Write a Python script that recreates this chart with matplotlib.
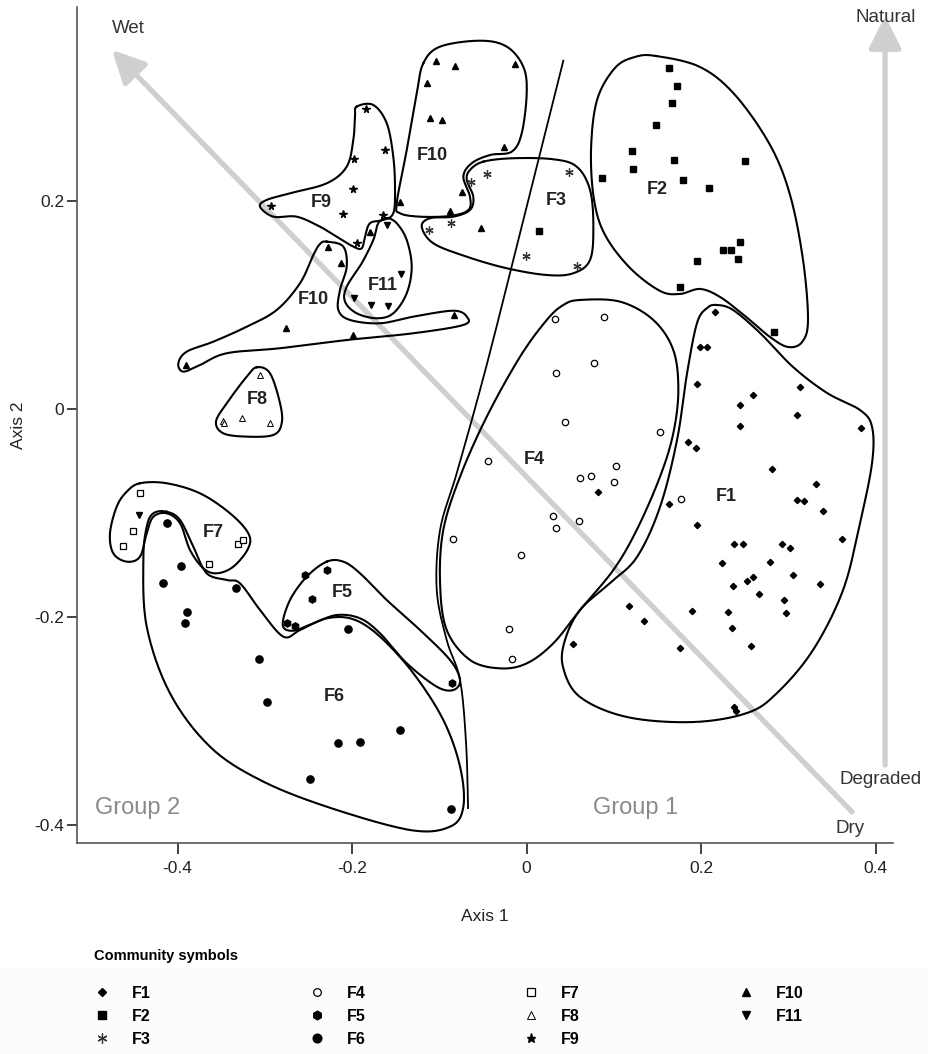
import numpy as np
import matplotlib
matplotlib.use('Agg')
import matplotlib.pyplot as plt
from matplotlib.lines import Line2D
from matplotlib.patches import Rectangle

plt.rcParams['font.family'] = ['Liberation Sans', 'DejaVu Sans']

# ---- site scores (Axis 1, Axis 2) ----
f1_x = [0.2157, 0.1989, 0.2069, 0.1951, 0.2599, 0.3135, 0.2450, 0.3100, 0.2444, 0.3837,
        0.1848, 0.1943, 0.2817, 0.3322, 0.3104, 0.3184, 0.3402, 0.0823, 0.1630, 0.1951,
        0.3613, 0.2375, 0.2481, 0.2925, 0.3024, 0.2244, 0.2791, 0.3054, 0.3360, 0.2367,
        0.2524, 0.2593, 0.2668, 0.2955, 0.1171, 0.1900, 0.2313, 0.2978, 0.1350, 0.2355,
        0.0530, 0.1763, 0.2570, 0.2375, 0.2405]
f1_y = [0.0933, 0.0599, 0.0599, 0.0240, 0.0135, 0.0209, 0.0036, -0.0061, -0.0166, -0.0180,
        -0.0317, -0.0378, -0.0577, -0.0718, -0.0872, -0.0882, -0.0981, -0.0795, -0.0911, -0.1118,
        -0.1250, -0.1298, -0.1298, -0.1298, -0.1339, -0.1478, -0.1474, -0.1599, -0.1683, -0.1699,
        -0.1657, -0.1618, -0.1779, -0.1837, -0.1897, -0.1942, -0.1952, -0.1959, -0.2038, -0.2103,
        -0.2263, -0.2301, -0.2279, -0.2868, -0.2901]

f2_x = [0.1637, 0.1728, 0.1668, 0.1488, 0.1206, 0.1691, 0.1221, 0.0862, 0.1794, 0.2508,
        0.2088, 0.2450, 0.2256, 0.2347, 0.2424, 0.1958, 0.1756, 0.2840, 0.0147]
f2_y = [0.3282, 0.3109, 0.2945, 0.2731, 0.2484, 0.2397, 0.2308, 0.2224, 0.2205, 0.2382,
        0.2125, 0.1603, 0.1526, 0.1529, 0.1445, 0.1420, 0.1173, 0.0738, 0.1709]

f3_x = [-0.0453, -0.0636, -0.1114, -0.0869, -0.0006, 0.0575, 0.0484]
f3_y = [0.2263, 0.2183, 0.1721, 0.1788, 0.1474, 0.1378, 0.2276]

f4_x = [0.0327, 0.0888, 0.0338, 0.0774, 0.0438, 0.1530, -0.0438, 0.1022, 0.0736, 0.0613,
        0.1006, 0.0304, 0.0605, 0.0338, -0.0839, -0.0060, -0.0197, -0.0166, 0.1767]
f4_y = [0.0865, 0.0888, 0.0346, 0.0439, -0.0125, -0.0224, -0.0503, -0.0545, -0.0641, -0.0666,
        -0.0702, -0.1029, -0.1077, -0.1141, -0.1253, -0.1401, -0.2118, -0.2404, -0.0868]

f5_x = [-0.2535, -0.2287, -0.2455, -0.2748, -0.2657, -0.0850]
f5_y = [-0.1596, -0.1548, -0.1824, -0.2055, -0.2084, -0.2632]

f6_x = [-0.4124, -0.3956, -0.4163, -0.3333, -0.3895, -0.3911, -0.2049, -0.3069, -0.2971,
        -0.1453, -0.2157, -0.1905, -0.2485, -0.0862]
f6_y = [-0.1093, -0.1510, -0.1673, -0.1721, -0.1952, -0.2055, -0.2118, -0.2404, -0.2820,
        -0.3087, -0.3214, -0.3202, -0.3555, -0.3843]

f7_x = [-0.4430, -0.4507, -0.4628, -0.3310, -0.3246, -0.3642]
f7_y = [-0.0808, -0.1170, -0.1314, -0.1301, -0.1260, -0.1490]

f8_x = [-0.3051, -0.3264, -0.3479, -0.3467, -0.2943]
f8_y = [0.0327, -0.0084, -0.0118, -0.0138, -0.0138]

f9_x = [-0.1840, -0.1622, -0.1977, -0.1992, -0.2932, -0.2100, -0.1641, -0.1946]
f9_y = [0.2885, 0.2490, 0.2404, 0.2118, 0.1955, 0.1878, 0.1863, 0.1593]

f10_x = [-0.1034, -0.0816, -0.0132, -0.1144, -0.1106, -0.0965, -0.0261, -0.0739, -0.1446,
         -0.0877, -0.0518, -0.1794, -0.2279, -0.2123, -0.2753, -0.1985, -0.0834, -0.3903]
f10_y = [0.3349, 0.3301, 0.3317, 0.3135, 0.2798, 0.2776, 0.2522, 0.2084, 0.1993,
         0.1907, 0.1743, 0.1705, 0.1561, 0.1407, 0.0779, 0.0713, 0.0901, 0.0420]

f11_x = [-0.1595, -0.1442, -0.1981, -0.1782, -0.1587, -0.4438]
f11_y = [0.1769, 0.1298, 0.1064, 0.0997, 0.0990, -0.1022]

# ---- hand drawn community outlines (traced) ----
hull_f1 = [(0.2180, 0.1000), (0.2367, 0.0952), (0.2676, 0.0731), (0.3054, 0.0404), (0.3444, 0.0154),
           (0.3822, -0.0010), (0.3960, -0.0173), (0.3960, -0.0519), (0.3822, -0.1096), (0.3628, -0.1740),
           (0.3284, -0.2317), (0.2871, -0.2731), (0.2527, -0.2923), (0.1908, -0.3010), (0.1152, -0.2962),
           (0.0613, -0.2769), (0.0418, -0.2481), (0.0441, -0.2221), (0.0613, -0.1933), (0.0957, -0.1673),
           (0.1266, -0.1423), (0.1530, -0.0942), (0.1725, -0.0298), (0.1840, 0.0346), (0.1954, 0.0827),
           (0.2069, 0.0971)]
hull_f2 = [(0.1484, 0.3394), (0.1989, 0.3288), (0.2390, 0.3019), (0.2791, 0.2538), (0.3020, 0.2058),
           (0.3169, 0.1433), (0.3226, 0.0856), (0.3158, 0.0644), (0.2997, 0.0596), (0.2791, 0.0692),
           (0.2504, 0.0894), (0.2218, 0.1077), (0.1989, 0.1154), (0.1759, 0.1106), (0.1530, 0.1135),
           (0.1186, 0.1356), (0.0900, 0.1673), (0.0774, 0.2010), (0.0739, 0.2490), (0.0808, 0.2971),
           (0.1014, 0.3279), (0.1244, 0.3385)]
hull_f3 = [(-0.0495, 0.2378), (-0.0151, 0.2411), (0.0307, 0.2401), (0.0575, 0.2330), (0.0728, 0.2106),
           (0.0766, 0.1753), (0.0728, 0.1433), (0.0536, 0.1305), (0.0232, 0.1288), (-0.0227, 0.1353),
           (-0.0685, 0.1464), (-0.1068, 0.1593), (-0.1201, 0.1753), (-0.1106, 0.1834), (-0.0839, 0.1849),
           (-0.0648, 0.1913), (-0.0610, 0.2041), (-0.0685, 0.2202), (-0.0648, 0.2298)]
hull_f4 = [(0.0613, 0.1048), (0.1072, 0.1032), (0.1453, 0.0856), (0.1682, 0.0567), (0.1740, 0.0183),
           (0.1682, -0.0234), (0.1530, -0.0651), (0.1263, -0.1163), (0.0995, -0.1548), (0.0613, -0.1933),
           (0.0307, -0.2253), (0.0002, -0.2446), (-0.0304, -0.2494), (-0.0648, -0.2413), (-0.0915, -0.2125),
           (-0.0991, -0.1676), (-0.0954, -0.1163), (-0.0762, -0.0651), (-0.0456, -0.0074), (-0.0074, 0.0503),
           (0.0232, 0.0856), (0.0422, 0.1000)]
hull_f5 = [(-0.2290, -0.1468), (-0.2100, -0.1468), (-0.1908, -0.1580), (-0.1602, -0.1837), (-0.1221, -0.2125),
           (-0.0877, -0.2413), (-0.0762, -0.2606), (-0.0839, -0.2702), (-0.1029, -0.2670), (-0.1373, -0.2445),
           (-0.1679, -0.2157), (-0.1908, -0.2013), (-0.2175, -0.1981), (-0.2444, -0.2061), (-0.2673, -0.2132),
           (-0.2794, -0.2077), (-0.2711, -0.1837), (-0.2519, -0.1612)]
hull_f6 = [(-0.4124, -0.0988), (-0.3971, -0.1067), (-0.3819, -0.1324), (-0.3665, -0.1580), (-0.3436, -0.1644),
           (-0.3284, -0.1676), (-0.3054, -0.1933), (-0.2787, -0.2189), (-0.2596, -0.2125), (-0.2290, -0.2013),
           (-0.1985, -0.2022), (-0.1679, -0.2189), (-0.1297, -0.2541), (-0.0954, -0.2990), (-0.0762, -0.3439),
           (-0.0724, -0.3824), (-0.0877, -0.4016), (-0.1335, -0.4048), (-0.2290, -0.3824), (-0.3054, -0.3567),
           (-0.3628, -0.3247), (-0.4086, -0.2734), (-0.4353, -0.2093), (-0.4392, -0.1452), (-0.4353, -0.1132),
           (-0.4277, -0.1003)]
hull_f7 = [(-0.4430, -0.0714), (-0.4124, -0.0714), (-0.3742, -0.0811), (-0.3398, -0.1003), (-0.3189, -0.1195),
           (-0.3189, -0.1339), (-0.3360, -0.1516), (-0.3551, -0.1580), (-0.3704, -0.1532), (-0.3857, -0.1356),
           (-0.3971, -0.1099), (-0.4124, -0.1003), (-0.4277, -0.1036), (-0.4353, -0.1195), (-0.4430, -0.1420),
           (-0.4582, -0.1468), (-0.4736, -0.1388), (-0.4774, -0.1195), (-0.4697, -0.0939), (-0.4582, -0.0795)]
hull_f8 = [(-0.3092, 0.0401), (-0.2940, 0.0343), (-0.2825, 0.0055), (-0.2806, -0.0138), (-0.2902, -0.0250),
           (-0.3207, -0.0266), (-0.3475, -0.0234), (-0.3559, -0.0122), (-0.3436, 0.0055), (-0.3207, 0.0311)]
hull_f9 = [(-0.1946, 0.2907), (-0.1756, 0.2923), (-0.1602, 0.2747), (-0.1527, 0.2426), (-0.1507, 0.2106),
           (-0.1527, 0.1882), (-0.1641, 0.1817), (-0.1794, 0.1786), (-0.1851, 0.1657), (-0.1889, 0.1545),
           (-0.1985, 0.1561), (-0.2175, 0.1657), (-0.2367, 0.1753), (-0.2634, 0.1849), (-0.2902, 0.1849),
           (-0.3054, 0.1945), (-0.2978, 0.2010), (-0.2711, 0.2074), (-0.2290, 0.2170), (-0.2061, 0.2330),
           (-0.1985, 0.2587), (-0.1966, 0.2811)]
hull_f10a = [(-0.1183, 0.3324), (-0.0991, 0.3484), (-0.0533, 0.3541), (-0.0227, 0.3484), (-0.0037, 0.3291),
             (0.0002, 0.3036), (-0.0055, 0.2651), (-0.0170, 0.2474), (-0.0418, 0.2442), (-0.0628, 0.2363),
             (-0.0724, 0.2234), (-0.0648, 0.2041), (-0.0667, 0.1913), (-0.0877, 0.1856), (-0.1221, 0.1849),
             (-0.1450, 0.1882), (-0.1488, 0.1978), (-0.1373, 0.2490), (-0.1258, 0.3036)]
hull_f10b = [(-0.2290, 0.1609), (-0.2100, 0.1561), (-0.2061, 0.1368), (-0.2138, 0.1144), (-0.2157, 0.0952),
             (-0.2023, 0.0856), (-0.1679, 0.0824), (-0.1297, 0.0888), (-0.0839, 0.0945), (-0.0685, 0.0888),
             (-0.0724, 0.0808), (-0.1297, 0.0728), (-0.2061, 0.0663), (-0.2825, 0.0584), (-0.3436, 0.0536),
             (-0.3742, 0.0423), (-0.3934, 0.0359), (-0.3991, 0.0439), (-0.3895, 0.0551), (-0.3590, 0.0647),
             (-0.3207, 0.0791), (-0.2863, 0.0952), (-0.2596, 0.1209), (-0.2443, 0.1481), (-0.2367, 0.1587)]
hull_f11 = [(-0.1602, 0.1834), (-0.1488, 0.1786), (-0.1373, 0.1625), (-0.1316, 0.1368), (-0.1373, 0.1113),
            (-0.1527, 0.0920), (-0.1717, 0.0872), (-0.1946, 0.0920), (-0.2080, 0.1032), (-0.2061, 0.1176),
            (-0.1889, 0.1401), (-0.1756, 0.1625), (-0.1699, 0.1786)]
group_divide = [(0.0422, 0.3349), (-0.0266, 0.1048), (-0.0533, 0.0183), (-0.0800, -0.0618), (-0.0991, -0.1163),
                (-0.1029, -0.1740), (-0.0915, -0.2221), (-0.0762, -0.2606), (-0.0693, -0.3212), (-0.0670, -0.3837)]

# label positions of the communities
label_names = ['F1', 'F2', 'F3', 'F4', 'F5', 'F6', 'F7', 'F8', 'F9', 'F10', 'F10', 'F11']
label_x = [0.2287, 0.1496, 0.0338, 0.0086, -0.2114, -0.2206, -0.3593, -0.3089, -0.2355, -0.1083, -0.2447, -0.1644]
label_y = [-0.0846, 0.2115, 0.2000, -0.0490, -0.1760, -0.2760, -0.1192, 0.0087, 0.1981, 0.2442, 0.1048, 0.1192]


def catmull_rom(pts, closed=True, n=16):
    pts = np.asarray(pts, float)
    if closed:
        P = np.vstack([pts[-1:], pts, pts[:2]])
    else:
        P = np.vstack([pts[:1], pts, pts[-1:]])
    t = np.linspace(0, 1, n, endpoint=False)[:, None]
    segs = []
    for i in range(1, len(P) - 2):
        p0, p1, p2, p3 = P[i - 1], P[i], P[i + 1], P[i + 2]
        seg = 0.5 * (2 * p1 + (-p0 + p2) * t + (2 * p0 - 5 * p1 + 4 * p2 - p3) * t ** 2
                     + (-p0 + 3 * p1 - 3 * p2 + p3) * t ** 3)
        segs.append(seg)
    return np.vstack(segs + [P[-2][None]])


fig = plt.figure(figsize=(9.29, 10.54), dpi=100)
ax = fig.add_axes([77 / 929, 1 - 843 / 1054, (893 - 77) / 929, (843 - 7) / 1054])

# very faint band behind the legend
fig.patches.append(Rectangle((0, 0), 1, 1 - 968 / 1054, transform=fig.transFigure,
                             facecolor='#fbfcfc', edgecolor='none', zorder=0))

grey = '#cfcfcf'
# gradient arrows
ax.annotate('', xy=(-0.4750, 0.3452), xytext=(0.3731, -0.3875),
            arrowprops=dict(arrowstyle='-|>,head_length=0.9,head_width=0.45', color=grey,
                            lw=3.8, mutation_scale=22, shrinkA=0, shrinkB=0), zorder=1)
ax.annotate('', xy=(0.4109, 0.3780), xytext=(0.4109, -0.3423),
            arrowprops=dict(arrowstyle='-|>,head_length=0.9,head_width=0.45', color=grey,
                            lw=3.8, mutation_scale=22, shrinkA=0, shrinkB=0),
            annotation_clip=False, zorder=1)

for hull in [hull_f1, hull_f2, hull_f3, hull_f4, hull_f5, hull_f6, hull_f7, hull_f8,
             hull_f9, hull_f10a, hull_f10b, hull_f11]:
    c = catmull_rom(hull)
    ax.plot(c[:, 0], c[:, 1], color='black', lw=1.5, zorder=2, solid_joinstyle='round')
c = catmull_rom(group_divide, closed=False)
ax.plot(c[:, 0], c[:, 1], color='black', lw=1.3, zorder=2)

# marker style per community
styles = {
    'F1': dict(marker='D', ms=3.2, mfc='black', mec='black'),
    'F2': dict(marker='s', ms=5, mfc='black', mec='black'),
    'F3': dict(marker=(6, 2, 0), ms=6, mfc='#333333', mec='#333333', mew=0.9),
    'F4': dict(marker='o', ms=4.6, mfc='white', mec='black', mew=0.9),
    'F5': dict(marker='h', ms=5.2, mfc='black', mec='black'),
    'F6': dict(marker='o', ms=5.2, mfc='black', mec='black'),
    'F7': dict(marker='s', ms=4.4, mfc='white', mec='black', mew=0.9),
    'F8': dict(marker='^', ms=4.4, mfc='white', mec='black', mew=0.7),
    'F9': dict(marker='*', ms=5.5, mfc='black', mec='black'),
    'F10': dict(marker='^', ms=5, mfc='black', mec='black'),
    'F11': dict(marker='v', ms=5, mfc='black', mec='black'),
}
series = {'F1': (f1_x, f1_y), 'F2': (f2_x, f2_y), 'F3': (f3_x, f3_y), 'F4': (f4_x, f4_y),
          'F5': (f5_x, f5_y), 'F6': (f6_x, f6_y), 'F7': (f7_x, f7_y), 'F8': (f8_x, f8_y),
          'F9': (f9_x, f9_y), 'F10': (f10_x, f10_y), 'F11': (f11_x, f11_y)}
for name, (xs, ys) in series.items():
    ax.plot(xs, ys, ls='none', zorder=3, **styles[name])

for name, lx, ly in zip(label_names, label_x, label_y):
    ax.text(lx, ly, name, fontsize=13, fontweight='bold', ha='center', va='center', color='#222222', zorder=4)

ax.text(-0.4567, 0.3663, 'Wet', fontsize=13.5, ha='center', va='center', color='#333333')
ax.text(0.3713, -0.4029, 'Dry', fontsize=13.5, ha='center', va='center', color='#333333')
ax.text(0.4120, 0.3760, 'Natural', fontsize=13.5, ha='center', va='center', color='#333333', clip_on=False)
ax.text(0.4052, -0.3558, 'Degraded', fontsize=13.5, ha='center', va='center', color='#333333', clip_on=False)
ax.text(-0.4452, -0.3837, 'Group 2', fontsize=17, ha='center', va='center', color='#8a8a8a')
ax.text(0.1255, -0.3837, 'Group 1', fontsize=17, ha='center', va='center', color='#8a8a8a')

ax.set_xlim(-0.5152, 0.4200)
ax.set_ylim(-0.4173, 0.3865)
ax.set_xticks([-0.4, -0.2, 0, 0.2, 0.4])
ax.set_xticklabels(['-0.4', '-0.2', '0', '0.2', '0.4'])
ax.set_yticks([-0.4, -0.2, 0, 0.2])
ax.set_yticklabels(['-0.4', '-0.2', '0', '0.2'])
ax.set_xlabel('Axis 1', fontsize=12.5, color='#222222', labelpad=24)
ax.set_ylabel('Axis 2', fontsize=12.5, color='#222222', labelpad=6)
ax.tick_params(axis='x', direction='out', length=8, width=1.2, labelsize=12.5, pad=5, colors='#222222')
ax.tick_params(axis='y', direction='out', length=7, width=1.2, labelsize=12.5, pad=2, colors='#222222')
for side in ['top', 'right']:
    ax.spines[side].set_visible(False)
for side in ['left', 'bottom']:
    ax.spines[side].set_color('#555555')
    ax.spines[side].set_linewidth(1.2)

# legend of community symbols
handles = [Line2D([], [], ls='none', **{**styles[n], 'ms': styles[n]['ms'] * 1.2}) for n in series]
leg = fig.legend(handles, list(series.keys()), ncol=4, loc='upper left',
                 bbox_to_anchor=(80 / 929, 1 - 935 / 1054), frameon=False,
                 title='Community symbols', alignment='left',
                 prop={'weight': 'bold', 'size': 11.5},
                 title_fontproperties={'weight': 'bold', 'size': 10.5},
                 handlelength=1.0, handletextpad=1.35, columnspacing=9.9, labelspacing=0.5)
leg._legend_box.sep = 16

fig.savefig('out.png', dpi=100)
